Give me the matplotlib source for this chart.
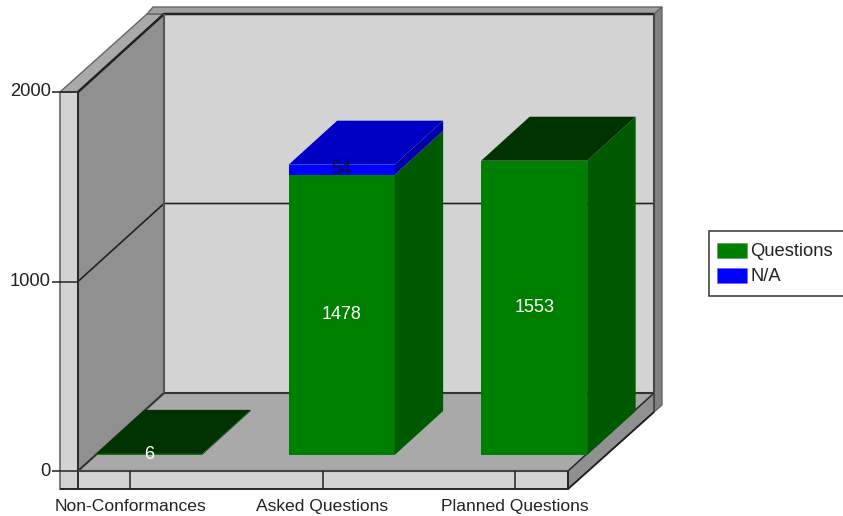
import matplotlib
matplotlib.use("Agg")
import matplotlib.pyplot as plt
from matplotlib.patches import Polygon, Patch, Rectangle
from matplotlib.legend_handler import HandlerPatch

categories = ["Non-Conformances", "Asked Questions", "Planned Questions"]
questions = [6, 1478, 1553]
not_applicable = [0, 54, 0]
series_names = ["Questions", "N/A"]
y_ticks = [0, 1000, 2000]

W, H = 843, 516
SX = 192.5      # pixels per category
SY = 379 / 2000 # pixels per value unit
DX, DY = 86, 78 # floor depth in pixels

fig = plt.figure(figsize=(W / 100, H / 100), dpi=100)
ax = fig.add_axes([78 / W, 1 - 471 / H, 490 / W, 379 / H])
x0, x1 = (78 - 130) / SX, (568 - 130) / SX
ax.set_xlim(x0, x1)
ax.set_ylim(0, 2000)
for s in ax.spines.values():
    s.set_visible(False)
ax.patch.set_visible(False)
FONT = ["Liberation Sans", "DejaVu Sans"]
TXT = "#222222"


def P(x, y, d=0.0, ox=0.0, oy=0.0):
    """Oblique projection: x category, y value, d depth; ox/oy pixel nudges."""
    return (x + (d * DX + ox) / SX, y + (d * DY + oy) / SY)


def poly(pts, fc, ec=None, lw=0.0, z=1):
    ax.add_patch(Polygon(pts, closed=True, fc=fc, ec=ec or fc, lw=lw,
                         zorder=z, clip_on=False, joinstyle="miter"))


def line(pts, color="#333333", lw=1.5, z=1.5):
    xs, ys = zip(*pts)
    ax.plot(xs, ys, color=color, lw=lw, zorder=z, clip_on=False,
            solid_capstyle="butt", scalex=False, scaley=False)


top = y_ticks[-1]
EDGE = "#666666"
# walls
poly([P(x0, 0, 1), P(x1, 0, 1), P(x1, top, 1), P(x0, top, 1)], "#d3d3d3")
poly([P(x0, 0), P(x0, 0, 1), P(x0, top, 1), P(x0, top)], "#909090")
poly([P(x0, 0), P(x1, 0), P(x1, 0, 1), P(x0, 0, 1)], "#a9a9a9")
# front lip
poly([P(x0, top, 0, -18), P(x0, top), P(x0, 0, 0), P(x1, 0), P(x1, 0, 0, 0, -18), P(x0, 0, 0, -18, -18)],
     "#d3d3d3", EDGE, 1.2)
# top bands
poly([P(x0, top, 0, -18), P(x0, top), P(x0, top, 1), P(x0, top, 1, -17)], "#a9a9a9", EDGE, 1.0)
poly([P(x0, top, 1, -17), P(x0, top, 1, -11, 7), P(x1, top, 1, 8, 7), P(x1, top, 1)], "#a0a0a0", EDGE, 1.0)
# right side pieces
poly([P(x1, top, 1), P(x1, top, 1, 8, 7), P(x1, 0, 1, 8, -12), P(x1, 0, 1, 0, -19)], "#808080", EDGE, 1.0)
poly([P(x1, 0), P(x1, 0, 1), P(x1, 0, 1, 0, -19), P(x1, 0, 0, 0, -18)], "#909090", "#333333", 1.0)

# wall lines
for v in y_ticks[1:-1]:
    line([P(x0, v), P(x0, v, 1), P(x1, v, 1)], "#222222", 1.2)
line([P(x0, 0), P(x0, 0, 1), P(x1, 0, 1)], "#333333", 1.5)
line([P(x0, top), P(x0, top, 1), P(x1, top, 1)], "#222222", 1.8)
line([P(x0, 0, 1), P(x0, top, 1)], "#555555", 1.5)
line([P(x1, 0, 1), P(x1, top, 1)], "#444444", 1.5)
line([P(x0, -18 / SY), P(x0, top)], "#222222", 1.3)
line([P(x0, 0), P(x1, 0)], "#444444", 1.5)
line([P(x0, 0, 0, -18, -18), P(x1, 0, 0, 0, -18), P(x1, 0, 1, 0, -19)], "#222222", 1.3)
line([P(x1, 0), P(x1, 0, 0, 0, -18)], "#222222", 1.3)
line([P(x1, 0), P(x1, 0, 1)], "#333333", 1.0)

# bars
BW = 106 / SX
OFF = 1.5 / SX
D0 = 16 / DY
D1 = 60 / DY
faces = [("#008000", "#005a00", "#003300"), ("#0000ff", "#0000aa", "#0000c4")]
for i, cat in enumerate(categories):
    l = i + OFF - BW / 2
    r = l + BW
    base = 0
    stack = [(questions[i], faces[0], "white"), (not_applicable[i], faces[1], "#111133")]
    stack = [s for s in stack if s[0] > 0]
    for k, (val, (front, side, roof), tc) in enumerate(stack):
        t = base + val
        poly([P(l, base, D0), P(r, base, D0), P(r, t, D0), P(l, t, D0)], front, z=2)
        poly([P(r, base, D0), P(r, base, D1), P(r, t, D1), P(r, t, D0)], side, z=2)
        if k == len(stack) - 1:
            poly([P(l, t, D0), P(r, t, D0), P(r, t, D1), P(l, t, D1)], roof, z=2)
        cx, cy = P(i + OFF, base + val / 2, D0)
        ax.text(cx, cy, str(val), color=tc, ha="center", va="center", fontsize=13,
                family=FONT, zorder=3)
        base = t

# axes ticks
ax.set_xticks(range(len(categories)))
ax.set_xticklabels(categories, family=FONT, fontsize=12.6, color=TXT)
ax.set_yticks(y_ticks)
ax.set_yticklabels([str(v) for v in y_ticks], family=FONT, fontsize=13.2, color=TXT, va="center")
ax.tick_params(axis="x", length=18 * .72, width=1.1, color="#222222", pad=7)
ax.tick_params(axis="y", length=26 * .72, width=1.1, color="#222222", pad=1)


# legend
def swatch(legend, orig_handle, xdescent, ydescent, width, height, fontsize):
    return Rectangle((-xdescent - 2.2, -ydescent - 0.7), width, height)


handles = [Patch(fc=faces[0][0], ec="#6a9a6a", lw=0.5), Patch(fc=faces[1][0], ec="#6a6aff", lw=0.5)]
leg = fig.legend(handles, series_names, loc="upper left",
                 bbox_to_anchor=(709 / W, 1 - 295 / H, 150 / W, 64 / H), mode="expand",
                 fancybox=False, framealpha=1, edgecolor="#333333",
                 prop={"family": FONT, "size": 13.2}, labelcolor=TXT,
                 handlelength=1.64, handleheight=0.87, handletextpad=0.0,
                 borderpad=0.6, labelspacing=0.38, borderaxespad=0,
                 handler_map={Patch: HandlerPatch(patch_func=swatch)})
leg.get_frame().set_linewidth(1.1)

fig.savefig("out.png", dpi=100)
